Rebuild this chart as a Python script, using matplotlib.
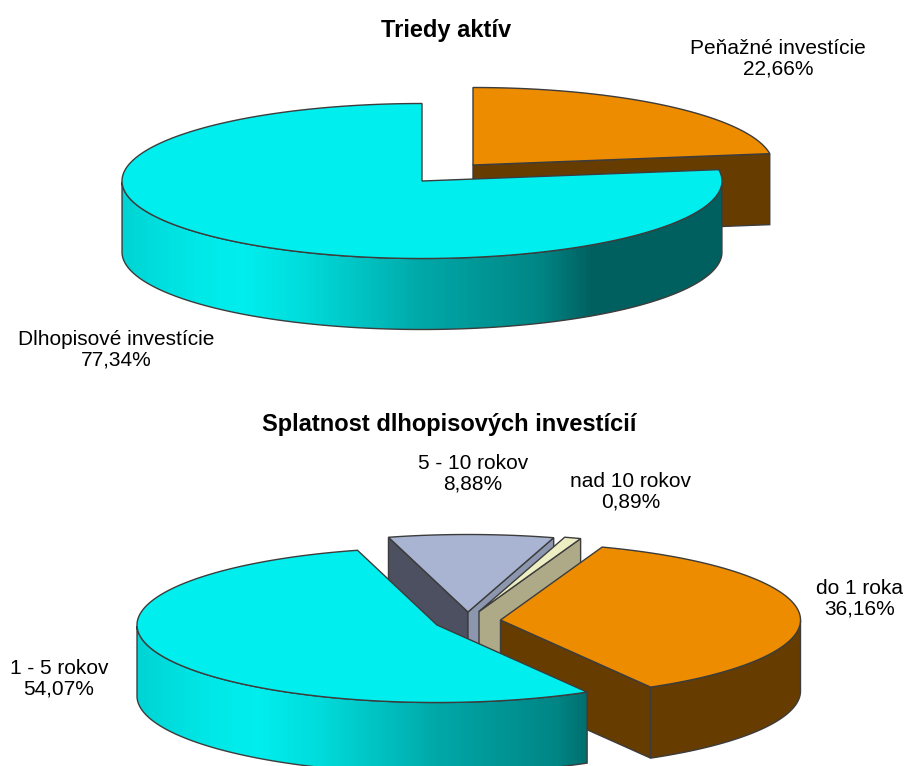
import numpy as np
import matplotlib
matplotlib.use("Agg")
import matplotlib.pyplot as plt
from matplotlib.colors import LinearSegmentedColormap
from matplotlib.patches import Polygon

plt.rcParams['font.family'] = ['Liberation Sans', 'DejaVu Sans']

# data
asset_names = ['Peňažné investície', 'Dlhopisové investície']
asset_values = [22.66, 77.34]
maturity_names = ['do 1 roka', '1 - 5 rokov', '5 - 10 rokov', 'nad 10 rokov']
maturity_values = [36.16, 54.07, 8.88, 0.89]

# pie geometry, in pixels
RX = 300
RY = 77.5
DEPTH = 71
EDGE = '#3c3c3c'

cyan_wall = LinearSegmentedColormap.from_list('cyan_wall', [
    (0.0, '#00d4d4'), (0.12, '#00e8e8'), (0.2, '#00eeee'), (0.3, '#00dcdc'), (0.415, '#00bfbf'),
    (0.5, '#00a8a8'), (0.7, '#008585'), (0.785, '#006060'), (1.0, '#006060')])
brown_wall = LinearSegmentedColormap.from_list('brown_wall', ['#663c00', '#663c00'])
tan_wall = LinearSegmentedColormap.from_list('tan_wall', ['#aeaa88', '#aeaa88'])
slate_wall = LinearSegmentedColormap.from_list('slate_wall', ['#8c96ae', '#8c96ae'])

# style for each slice: top, start cut face, end cut face, wall gradient
ORANGE = ('#ee8c00', '#663c00', '#663c00', brown_wall)
CYAN = ('#00eeee', '#00a0a0', '#006060', cyan_wall)
BLUE = ('#a8b4d2', '#4c5060', '#8c96ae', slate_wall)
CREAM = ('#eeeec4', '#aeaa88', '#aeaa88', tan_wall)


def rim(cx, cy, a0, a1):
    # a is clockwise from 12 o'clock, in degrees
    t = np.radians(np.linspace(a0, a1, 200))
    return cx + RX * np.sin(t), cy - RY * np.cos(t)


def draw_slice(ax, center, a0, a1, style, z):
    top, face_0, face_1, wall_cmap = style
    cx, cy = center
    x, y = rim(cx, cy, a0, a1)

    # radial cut faces, only those turned to the viewer
    if np.sin(np.radians(a0)) < -1e-6:
        ax.add_patch(Polygon([(cx, cy), (x[0], y[0]), (x[0], y[0] + DEPTH), (cx, cy + DEPTH)],
                             fc=face_0, ec=EDGE, lw=1, zorder=z))
    if np.sin(np.radians(a1)) > 1e-6:
        ax.add_patch(Polygon([(cx, cy), (x[-1], y[-1]), (x[-1], y[-1] + DEPTH), (cx, cy + DEPTH)],
                             fc=face_1, ec=EDGE, lw=1, zorder=z))

    # outer wall, only the part facing the viewer
    t = np.radians(np.linspace(a0, a1, 200))
    front = np.cos(t) < 0
    if front.any():
        pieces = np.split(np.arange(len(t)), np.where(np.diff(front.astype(int)) != 0)[0] + 1)
        for p in pieces:
            if not front[p[0]]:
                continue
            wx, wy = x[p], y[p]
            pts = np.r_[np.c_[wx, wy], np.c_[wx[::-1], wy[::-1] + DEPTH]]
            poly = Polygon(pts, fc='none', ec=EDGE, lw=1, zorder=z + 0.2)
            ax.add_patch(poly)
            grad = np.linspace(0, 1, 300).reshape(1, -1)
            im = ax.imshow(grad, cmap=wall_cmap, vmin=0, vmax=1, aspect='auto',
                           extent=[cx - RX, cx + RX, cy + RY + DEPTH, cy - RY],
                           zorder=z + 0.1)
            im.set_clip_path(poly)

    # top surface
    ax.add_patch(Polygon(np.r_[[(cx, cy)], np.c_[x, y]], fc=top, ec=EDGE, lw=1, zorder=z + 0.3))


def fmt(name, value):
    return name + '\n' + f'{value:.2f}'.replace('.', ',') + '%'


fig = plt.figure(figsize=(9.08, 7.66), dpi=100)
ax = fig.add_axes([0, 0, 1, 1])

# upper pie starts at 12 o'clock
a_orange = 360 * asset_values[0] / 100
draw_slice(ax, (473, 165), 0, a_orange, ORANGE, 2)
draw_slice(ax, (422, 181), a_orange, 360, CYAN, 3)

# lower pie starts at 19.8 degrees
spans = [360 * v / 100 for v in maturity_values]
start = 19.8
a1 = start + spans[0]
a2 = a1 + spans[1]
a3 = a2 + spans[2]
a4 = a3 + spans[3]
draw_slice(ax, (468, 612), a2, a3, BLUE, 4)
draw_slice(ax, (479, 611.5), a3, a4, CREAM, 5)
draw_slice(ax, (500.5, 620), start, a1, ORANGE, 6)
draw_slice(ax, (437, 625), a1, a2, CYAN, 7)

ax.set_xlim(0, 908)
ax.set_ylim(766, 0)
ax.axis('off')

ax.text(446, 31, 'Triedy aktív', ha='center', va='center', fontsize=17, fontweight='bold')
ax.text(449, 425, 'Splatnost dlhopisových investícií', ha='center', va='center',
        fontsize=17, fontweight='bold')

LS = 1.08
FS = 15
ax.text(778, 59, fmt(asset_names[0], asset_values[0]), ha='center', va='center', fontsize=FS, linespacing=LS)
ax.text(116, 350, fmt(asset_names[1], asset_values[1]), ha='center', va='center', fontsize=FS, linespacing=LS)
ax.text(860, 599, fmt(maturity_names[0], maturity_values[0]), ha='center', va='center', fontsize=FS, linespacing=LS)
ax.text(59, 679, fmt(maturity_names[1], maturity_values[1]), ha='center', va='center', fontsize=FS, linespacing=LS)
ax.text(473, 474, fmt(maturity_names[2], maturity_values[2]), ha='center', va='center', fontsize=FS, linespacing=LS)
ax.text(631, 492, fmt(maturity_names[3], maturity_values[3]), ha='center', va='center', fontsize=FS, linespacing=LS)

fig.savefig('out.png', dpi=100)
